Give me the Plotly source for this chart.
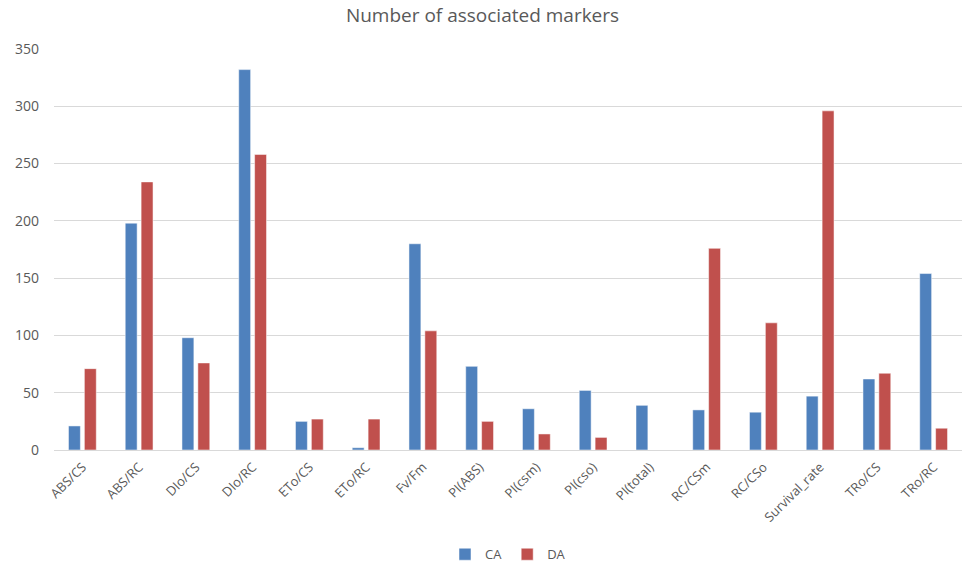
import plotly.graph_objects as go

categories = ["ABS/CS", "ABS/RC", "DIo/CS", "DIo/RC", "ETo/CS", "ETo/RC", "Fv/Fm",
              "PI(ABS)", "PI(csm)", "PI(cso)", "PI(total)", "RC/CSm", "RC/CSo",
              "Survival_rate", "TRo/CS", "TRo/RC"]
ca_values = [21, 198, 98, 332, 25, 2, 180, 73, 36, 52, 39, 35, 33, 47, 62, 154]
da_values = [71, 234, 76, 258, 27, 27, 104, 25, 14, 11, 0, 176, 111, 296, 67, 19]
y_ticks = [0, 50, 100, 150, 200, 250, 300, 350]

FONT = "Open Sans, Liberation Sans, sans-serif"
GREY = "#595959"

fig = go.Figure()
fig.add_trace(go.Bar(name="CA", x=categories, y=ca_values,
                     marker=dict(color="#4F81BD", line=dict(color="rgba(255,255,255,0.5)", width=1))))
fig.add_trace(go.Bar(name="DA", x=categories, y=da_values,
                     marker=dict(color="#C0504D", line=dict(color="rgba(255,255,255,0.5)", width=1))))

fig.update_layout(
    width=965, height=565,
    margin=dict(l=54, r=3, t=49, b=115, autoexpand=False),
    paper_bgcolor="white", plot_bgcolor="white",
    barmode="group", bargap=0.44, bargroupgap=0.25,
    title=dict(text="Number of associated markers", x=0.5, xanchor="center",
               y=0.972, yanchor="middle",
               font=dict(family=FONT, size=19, color=GREY)),
    font=dict(family=FONT, size=13, color=GREY),
    legend=dict(orientation="h", x=0.5, xanchor="center", y=-0.26, yanchor="middle",
                font=dict(family=FONT, size=13, color=GREY), itemwidth=30,
                traceorder="normal"),
    showlegend=True,
)
fig.update_yaxes(range=[0, 350], tickvals=y_ticks, showgrid=True, gridcolor="#D9D9D9",
                 gridwidth=1, zeroline=True, zerolinecolor="#D9D9D9", zerolinewidth=1,
                 showline=False, ticks="", ticklen=0, automargin=False,
                 ticklabelstandoff=14,
                 tickfont=dict(family=FONT, size=14, color=GREY))
fig.update_xaxes(tickangle=-45, showgrid=False, showline=False, ticks="", automargin=False,
                 ticklabelstandoff=6,
                 tickfont=dict(family=FONT, size=13, color=GREY))

fig.write_html("out.html")
